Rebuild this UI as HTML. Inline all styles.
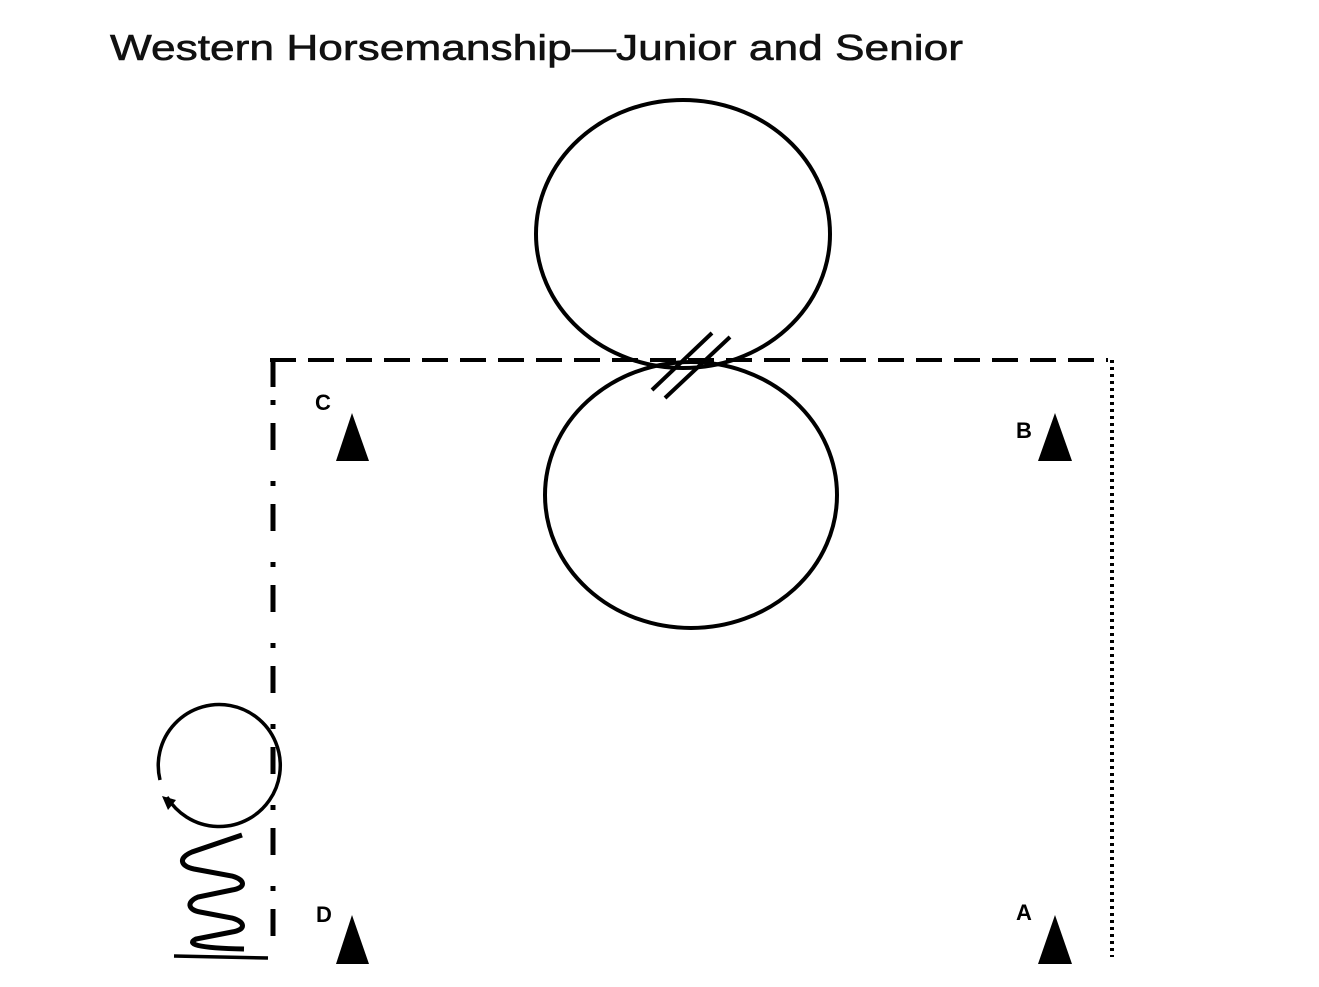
<!DOCTYPE html>
<html><head><meta charset="utf-8"><style>
html,body{margin:0;padding:0;background:#fff;}
svg{display:block;}
</style></head><body>
<svg width="1319" height="987" viewBox="0 0 1319 987" xmlns="http://www.w3.org/2000/svg">
<text x="110" y="60" font-family="Liberation Sans, sans-serif" font-size="36" textLength="853" lengthAdjust="spacingAndGlyphs" fill="#111" stroke="#111" stroke-width="0.6">Western Horsemanship—Junior and Senior</text>
<g fill="none" stroke="#000" stroke-width="4">
<ellipse cx="683" cy="234" rx="147" ry="134"/>
<ellipse cx="691" cy="495" rx="146" ry="133"/>
<line x1="270" y1="360" x2="1108" y2="360" stroke-dasharray="26,12"/>
<line x1="273" y1="358" x2="273" y2="387" stroke-width="5"/>
<line x1="273" y1="360" x2="273" y2="962" stroke-width="5" stroke-dasharray="27,31,5,18" stroke-dashoffset="18"/>
<line x1="1112" y1="360" x2="1112" y2="957" stroke-width="4" stroke-dasharray="3,4"/>
<line x1="652" y1="390" x2="712" y2="333"/>
<line x1="665" y1="398" x2="730" y2="337"/>
<path d="M160 780 A61 61 0 1 1 167 797" stroke-width="3.5"/>
<path d="M242 835 L192 852 C178 858 180 866 194 869 L232 876 C246 880 246 888 232 890 L198 897 C186 902 188 910 200 912 L232 918 C246 922 246 930 232 932 L196 939 C186 944 196 948 244 949" stroke-width="5"/>
<line x1="174" y1="956" x2="268" y2="958" stroke-width="3.5"/>
</g>
<path d="M162 796 L176 800 L168 810 Z" fill="#000"/>
<g fill="#000">
<polygon points="352,413 369,461 336,461"/>
<polygon points="1055,413 1072,461 1038,461"/>
<polygon points="352,915 369,964 336,964"/>
<polygon points="1055,915 1072,964 1038,964"/>
</g>
<g font-family="Liberation Sans, sans-serif" font-weight="bold" font-size="22" fill="#000">
<text x="315" y="410">C</text>
<text x="1016" y="438">B</text>
<text x="316" y="922">D</text>
<text x="1016" y="920">A</text>
</g>
</svg>
</body></html>
